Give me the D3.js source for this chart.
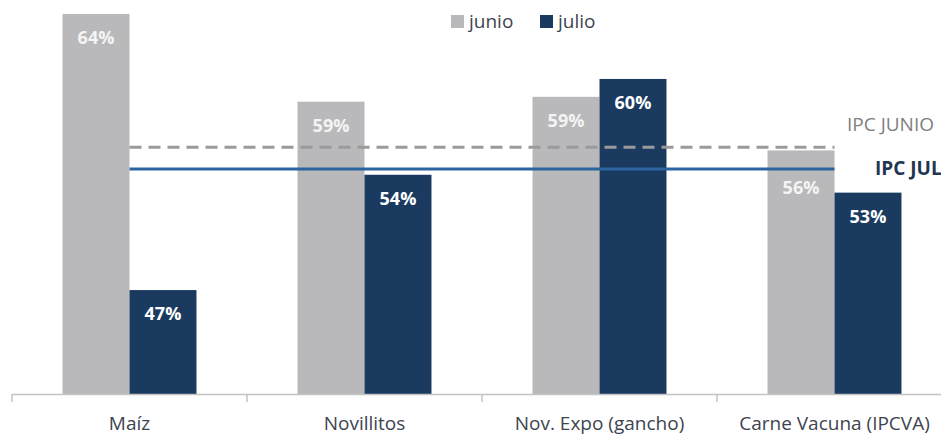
<!DOCTYPE html>
<html>
<head>
<meta charset="utf-8">
<script src="https://cdn.jsdelivr.net/npm/d3@7"></script>
<style>
  body { margin: 0; background: #fff; }
  svg { display: block; font-family: "Open Sans", "Noto Sans", sans-serif; }
</style>
</head>
<body>
<div id="grafico"></div>
<script>
// Datos del grafico
const categorias = ["Maíz", "Novillitos", "Nov. Expo (gancho)", "Carne Vacuna (IPCVA)"];
const series = ["junio", "julio"];
const valoresJunio = [64.0, 58.6, 58.9, 55.6];
const valoresJulio = [47.0, 54.1, 60.0, 53.0];
const ipcJunio = 55.8;
const ipcJulio = 54.45;
const etiquetasIPC = ["IPC JUNIO", "IPC JULIO"];

const colores = { junio: "#b9b9bb", julio: "#1a3b5f" };

const ancho = 941, alto = 438;
const base = 394;

const svg = d3.select("#grafico").append("svg")
  .attr("width", ancho)
  .attr("height", alto);

// Escalas
const x = d3.scaleBand()
  .domain(categorias)
  .range([12, 952])
  .paddingInner(0.43)
  .paddingOuter(0.215);

const xSub = d3.scaleBand()
  .domain(series)
  .range([0, x.bandwidth()]);

const y = d3.scaleLinear()
  .domain([40.6, 64.0])
  .range([base, 14]);

// Se arma la tabla de barras
const barras = [];
categorias.forEach((c, i) => {
  barras.push({ cat: c, serie: "junio", valor: valoresJunio[i] });
  barras.push({ cat: c, serie: "julio", valor: valoresJulio[i] });
});

// Barras
svg.append("g").selectAll("rect")
  .data(barras)
  .join("rect")
    .attr("x", d => x(d.cat) + xSub(d.serie))
    .attr("y", d => y(d.valor))
    .attr("width", xSub.bandwidth())
    .attr("height", d => base - y(d.valor))
    .attr("fill", d => colores[d.serie]);

// Posicion vertical de la etiqueta: si choca con las lineas de IPC se baja
function posEtiqueta(d) {
  let yb = y(d.valor) + 30;
  if (yb - 14 < y(ipcJulio) + 3 && yb > y(ipcJunio) - 3) {
    yb = y(ipcJulio) + 25;
  }
  return yb;
}

// Etiquetas de valores
svg.append("g").selectAll("text")
  .data(barras)
  .join("text")
    .attr("x", d => x(d.cat) + xSub(d.serie) + xSub.bandwidth() / 2)
    .attr("y", posEtiqueta)
    .attr("text-anchor", "middle")
    .attr("fill", d => d.serie == "junio" ? "#f4f4f4" : "#fff")
    .attr("font-size", 18)
    .attr("font-weight", "bold")
    .text(d => Math.round(d.valor) + "%");

// Eje X
const paso = x.step();
const bordes = categorias.map((c, i) => 12 + i * paso);
const eje = svg.append("g").attr("stroke", "#c4c4c4").attr("stroke-width", 1.5);
eje.append("line")
  .attr("x1", 12).attr("x2", ancho)
  .attr("y1", base + 0.5).attr("y2", base + 0.5);
eje.selectAll(".tick")
  .data(bordes)
  .join("line")
    .attr("x1", d => d).attr("x2", d => d)
    .attr("y1", base).attr("y2", base + 8);

svg.append("g").selectAll("text")
  .data(categorias)
  .join("text")
    .attr("x", d => x(d) + x.bandwidth() / 2)
    .attr("y", 430)
    .attr("text-anchor", "middle")
    .attr("fill", "#3d4450")
    .attr("font-size", 19)
    .text(d => d);

// Lineas de IPC
const xIni = x(categorias[0]) + x.bandwidth() / 2;
const xFin = x(categorias[categorias.length - 1]) + x.bandwidth() / 2;

svg.append("line")
  .attr("x1", xIni).attr("x2", xFin)
  .attr("y1", y(ipcJunio)).attr("y2", y(ipcJunio))
  .attr("stroke", "#9a9a9a")
  .attr("stroke-width", 3)
  .attr("stroke-dasharray", "12,7");

svg.append("line")
  .attr("x1", xIni).attr("x2", xFin)
  .attr("y1", y(ipcJulio)).attr("y2", y(ipcJulio))
  .attr("stroke", "#2c64a0")
  .attr("stroke-width", 3);

svg.append("text")
  .attr("x", 847).attr("y", y(ipcJunio) - 16)
  .attr("fill", "#808080")
  .attr("font-size", 19)
  .text(etiquetasIPC[0]);

svg.append("text")
  .attr("x", 875).attr("y", y(ipcJulio) + 6)
  .attr("fill", "#1f3550")
  .attr("font-size", 19)
  .attr("font-weight", "bold")
  .text(etiquetasIPC[1]);

// Leyenda
const leyenda = svg.append("g").selectAll("g")
  .data(series)
  .join("g")
    .attr("transform", (d, i) => `translate(${451 + i * 89},15)`);

leyenda.append("rect")
  .attr("width", 13).attr("height", 13)
  .attr("fill", d => colores[d]);

leyenda.append("text")
  .attr("x", 18).attr("y", 13)
  .attr("fill", "#3d4450")
  .attr("font-size", 19)
  .text(d => d);
</script>
</body>
</html>
